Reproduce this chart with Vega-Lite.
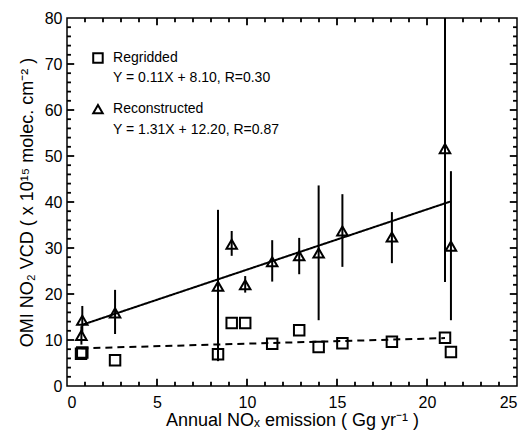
{
  "$schema": "https://vega.github.io/schema/vega-lite/v6.json",
  "width": 450,
  "height": 368,
  "padding": {"left": 18, "top": 10, "right": 5, "bottom": 5},
  "background": "white",
  "config": {
    "font": "Liberation Sans",
    "view": {"stroke": "black", "strokeWidth": 1.5},
    "axis": {
      "grid": false,
      "domain": false,
      "ticks": false,
      "labelColor": "black",
      "labelFontSize": 16,
      "titleColor": "black",
      "titleFontSize": 18,
      "titleFontWeight": "normal"
    }
  },
  "datasets": {
    "tri": [
      {"x": 0.85, "y": 14.3, "lo": 11.5, "hi": 17.4},
      {"x": 0.80, "y": 11.0, "lo": 9.0, "hi": 13.0},
      {"x": 2.67, "y": 15.9, "lo": 11.3, "hi": 20.9},
      {"x": 8.39, "y": 21.7, "lo": 5.4, "hi": 38.3},
      {"x": 9.15, "y": 30.8, "lo": 28.3, "hi": 33.7},
      {"x": 9.90, "y": 22.0, "lo": 20.3, "hi": 23.9},
      {"x": 11.40, "y": 27.0, "lo": 22.7, "hi": 31.7},
      {"x": 12.90, "y": 28.3, "lo": 24.3, "hi": 32.2},
      {"x": 13.98, "y": 28.9, "lo": 14.3, "hi": 43.6},
      {"x": 15.30, "y": 33.7, "lo": 25.9, "hi": 41.7},
      {"x": 18.05, "y": 32.4, "lo": 26.7, "hi": 37.8},
      {"x": 21.00, "y": 51.6, "lo": 22.6, "hi": 80.0},
      {"x": 21.33, "y": 30.4, "lo": 14.3, "hi": 46.7}
    ],
    "sq": [
      {"x": 0.78, "y": 7.0},
      {"x": 0.85, "y": 7.3},
      {"x": 2.67, "y": 5.6},
      {"x": 8.39, "y": 6.9},
      {"x": 9.15, "y": 13.7},
      {"x": 9.90, "y": 13.7},
      {"x": 11.40, "y": 9.2},
      {"x": 12.90, "y": 12.1},
      {"x": 13.98, "y": 8.5},
      {"x": 15.30, "y": 9.3},
      {"x": 18.05, "y": 9.6},
      {"x": 21.00, "y": 10.5},
      {"x": 21.33, "y": 7.4}
    ],
    "fit": [
      {"x": 0.85, "y": 13.31, "s": "Reconstructed"},
      {"x": 21.33, "y": 40.14, "s": "Reconstructed"},
      {"x": 0.8, "y": 8.19, "s": "Regridded"},
      {"x": 21.0, "y": 10.41, "s": "Regridded"}
    ],
    "legsym": [
      {"x": 1.72, "y": 71.3, "shape": "square"},
      {"x": 1.72, "y": 60.2, "shape": "triangle-up"}
    ],
    "legtxt": [
      {"x": 2.56, "y": 71.3, "t": "Regridded"},
      {"x": 2.56, "y": 67.0, "t": "Y = 0.11X + 8.10, R=0.30"},
      {"x": 2.56, "y": 60.2, "t": "Reconstructed"},
      {"x": 2.56, "y": 55.7, "t": "Y = 1.31X + 12.20, R=0.87"}
    ],
    "xmaj": [{"v": 5}, {"v": 10}, {"v": 15}, {"v": 20}],
    "xmin": [
      {"v": 1}, {"v": 2}, {"v": 3}, {"v": 4}, {"v": 6}, {"v": 7}, {"v": 8}, {"v": 9},
      {"v": 11}, {"v": 12}, {"v": 13}, {"v": 14}, {"v": 16}, {"v": 17}, {"v": 18}, {"v": 19},
      {"v": 21}, {"v": 22}, {"v": 23}, {"v": 24}
    ],
    "ymaj": [{"v": 10}, {"v": 20}, {"v": 30}, {"v": 40}, {"v": 50}, {"v": 60}, {"v": 70}],
    "ymin": [
      {"v": 2}, {"v": 4}, {"v": 6}, {"v": 8}, {"v": 12}, {"v": 14}, {"v": 16}, {"v": 18},
      {"v": 22}, {"v": 24}, {"v": 26}, {"v": 28}, {"v": 32}, {"v": 34}, {"v": 36}, {"v": 38},
      {"v": 42}, {"v": 44}, {"v": 46}, {"v": 48}, {"v": 52}, {"v": 54}, {"v": 56}, {"v": 58},
      {"v": 62}, {"v": 64}, {"v": 66}, {"v": 68}, {"v": 72}, {"v": 74}, {"v": 76}, {"v": 78}
    ]
  },
  "layer": [
    {
      "data": {"name": "tri"},
      "mark": {"type": "rule", "color": "black", "strokeWidth": 2},
      "encoding": {
        "x": {
          "field": "x", "type": "quantitative",
          "scale": {"domain": [0, 25], "nice": false},
          "axis": {
            "orient": "bottom",
            "title": "Annual NOₓ emission ( Gg yr⁻¹ )",
            "values": [0, 5, 10, 15, 20, 25],
            "labelPadding": 8,
            "titlePadding": 1
          }
        },
        "y": {
          "field": "lo", "type": "quantitative",
          "scale": {"domain": [0, 80], "nice": false},
          "axis": {
            "orient": "left",
            "title": "OMI NO₂ VCD ( x 10¹⁵ molec. cm⁻² )",
            "values": [0, 10, 20, 30, 40, 50, 60, 70, 80],
            "labelPadding": 5,
            "titlePadding": 8
          }
        },
        "y2": {"field": "hi"}
      }
    },
    {
      "data": {"name": "fit"},
      "mark": {"type": "line", "color": "black", "strokeWidth": 2},
      "encoding": {
        "x": {"field": "x", "type": "quantitative"},
        "y": {"field": "y", "type": "quantitative"},
        "detail": {"field": "s"},
        "strokeDash": {
          "field": "s", "type": "nominal",
          "scale": {"domain": ["Reconstructed", "Regridded"], "range": [[1, 0], [7, 5]]},
          "legend": null
        }
      }
    },
    {
      "data": {"name": "tri"},
      "mark": {"type": "point", "shape": "triangle-up", "filled": false, "color": "black", "strokeWidth": 2, "size": 110, "opacity": 1},
      "encoding": {
        "x": {"field": "x", "type": "quantitative"},
        "y": {"field": "y", "type": "quantitative"}
      }
    },
    {
      "data": {"name": "sq"},
      "mark": {"type": "point", "shape": "square", "filled": false, "color": "black", "strokeWidth": 2, "size": 110, "opacity": 1},
      "encoding": {
        "x": {"field": "x", "type": "quantitative"},
        "y": {"field": "y", "type": "quantitative"}
      }
    },
    {
      "data": {"name": "xmaj"},
      "mark": {"type": "rule", "color": "black", "strokeWidth": 1.8},
      "encoding": {
        "x": {"field": "v", "type": "quantitative"},
        "y": {"datum": 0, "type": "quantitative"},
        "y2": {"datum": 1.6}
      }
    },
    {
      "data": {"name": "xmaj"},
      "mark": {"type": "rule", "color": "black", "strokeWidth": 1.8},
      "encoding": {
        "x": {"field": "v", "type": "quantitative"},
        "y": {"datum": 80, "type": "quantitative"},
        "y2": {"datum": 78.4}
      }
    },
    {
      "data": {"name": "xmin"},
      "mark": {"type": "rule", "color": "black", "strokeWidth": 1.8},
      "encoding": {
        "x": {"field": "v", "type": "quantitative"},
        "y": {"datum": 0, "type": "quantitative"},
        "y2": {"datum": 0.9}
      }
    },
    {
      "data": {"name": "xmin"},
      "mark": {"type": "rule", "color": "black", "strokeWidth": 1.8},
      "encoding": {
        "x": {"field": "v", "type": "quantitative"},
        "y": {"datum": 80, "type": "quantitative"},
        "y2": {"datum": 79.1}
      }
    },
    {
      "data": {"name": "ymaj"},
      "mark": {"type": "rule", "color": "black", "strokeWidth": 1.8},
      "encoding": {
        "y": {"field": "v", "type": "quantitative"},
        "x": {"datum": 0, "type": "quantitative"},
        "x2": {"datum": 0.4}
      }
    },
    {
      "data": {"name": "ymaj"},
      "mark": {"type": "rule", "color": "black", "strokeWidth": 1.8},
      "encoding": {
        "y": {"field": "v", "type": "quantitative"},
        "x": {"datum": 25, "type": "quantitative"},
        "x2": {"datum": 24.6}
      }
    },
    {
      "data": {"name": "ymin"},
      "mark": {"type": "rule", "color": "black", "strokeWidth": 1.8},
      "encoding": {
        "y": {"field": "v", "type": "quantitative"},
        "x": {"datum": 0, "type": "quantitative"},
        "x2": {"datum": 0.22}
      }
    },
    {
      "data": {"name": "ymin"},
      "mark": {"type": "rule", "color": "black", "strokeWidth": 1.8},
      "encoding": {
        "y": {"field": "v", "type": "quantitative"},
        "x": {"datum": 25, "type": "quantitative"},
        "x2": {"datum": 24.78}
      }
    },
    {
      "data": {"name": "legsym"},
      "mark": {"type": "point", "filled": false, "color": "black", "strokeWidth": 2, "size": 90, "opacity": 1},
      "encoding": {
        "x": {"field": "x", "type": "quantitative"},
        "y": {"field": "y", "type": "quantitative"},
        "shape": {"field": "shape", "type": "nominal", "scale": null, "legend": null}
      }
    },
    {
      "data": {"name": "legtxt"},
      "mark": {"type": "text", "align": "left", "baseline": "middle", "fontSize": 14, "color": "black"},
      "encoding": {
        "x": {"field": "x", "type": "quantitative"},
        "y": {"field": "y", "type": "quantitative"},
        "text": {"field": "t"}
      }
    }
  ]
}
